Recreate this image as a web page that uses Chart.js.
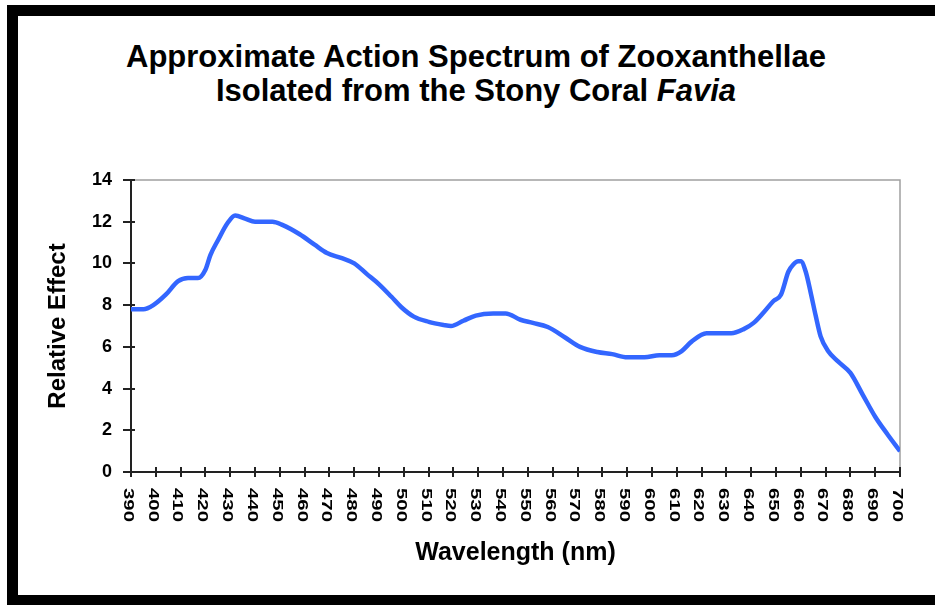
<!DOCTYPE html>
<html>
<head>
<meta charset="utf-8">
<script src="https://cdn.jsdelivr.net/npm/chart.js@4.4.0/dist/chart.umd.min.js"></script>
<style>
  body { margin: 0; background: #fff; }
  #page { position: relative; width: 935px; height: 605px; overflow: hidden; background: #fff; }
  #frame { position: absolute; left: 7px; top: 5px; width: 1000px; height: 601px; box-sizing: border-box;
           border: 11px solid #000; border-right: none; }
  #title { position: absolute; left: 0; top: 40px; width: 952px; text-align: center;
           font: bold 31px "Liberation Sans", Arial, sans-serif; line-height: 34px; color: #000; }
  canvas { position: absolute; left: 0; top: 0; }
</style>
</head>
<body>
<div id="page">
  <div id="frame"></div>
  <div id="title">Approximate Action Spectrum of Zooxanthellae<br>Isolated from the Stony Coral <i>Favia</i></div>
  <canvas id="chart" width="935" height="605"></canvas>
</div>
<script>
// valeurs
const wavelength = [390,395,399,404,409,413,417,420,422,425,429,432,436,440,447,451,458,464,469,475,
  480,485,490,495,499,504,510,516,519,524,529,536,541,547,552,558,565,571,578,584,
  590,597,603,608,612,616,622,628,632,637,641,645,649,652,655,657,659,660,662,664,
  666,668,671,675,680,685,690,695,700];
const effect = [7.8,7.8,8.0,8.5,9.15,9.3,9.3,9.7,10.4,11.1,11.95,12.3,12.15,12.0,12.0,11.85,11.4,10.9,10.5,10.25,
  10.0,9.5,9.0,8.4,7.9,7.45,7.2,7.05,7.0,7.25,7.5,7.6,7.6,7.3,7.15,6.95,6.45,6.0,5.75,5.65,
  5.5,5.5,5.6,5.6,5.8,6.25,6.65,6.65,6.65,6.85,7.15,7.65,8.2,8.5,9.6,9.95,10.1,10.1,9.6,8.6,
  7.5,6.5,5.8,5.3,4.75,3.7,2.65,1.8,1.0];

const xMin = 390, xMax = 700, xStep = 10;
const yMin = 0, yMax = 14, yStep = 2;
const xTitle = 'Wavelength (nm)';
const yTitle = 'Relative Effect';

const FONT = '"Liberation Sans", Arial, sans-serif';

// cadre gris en haut / à droite + graduations qui traversent les axes
const axesDeco = {
  id: 'axesDeco',
  beforeDatasetsDraw(chart) {
    const {ctx, chartArea: a, scales} = chart;
    ctx.save();
    ctx.strokeStyle = '#a0a0a0';
    ctx.lineWidth = 1.5;
    ctx.beginPath();
    ctx.moveTo(a.left, a.top);
    ctx.lineTo(a.right, a.top);
    ctx.lineTo(a.right, a.bottom);
    ctx.stroke();

    ctx.strokeStyle = '#222';
    ctx.lineWidth = 2;
    ctx.beginPath();
    scales.y.ticks.forEach(t => {
      const y = Math.round(scales.y.getPixelForValue(t.value));
      ctx.moveTo(a.left - 8, y);
      ctx.lineTo(a.left + 4, y);
    });
    scales.x.ticks.forEach(t => {
      const x = Math.round(scales.x.getPixelForValue(t.value));
      ctx.moveTo(x, a.bottom - 5);
      ctx.lineTo(x, a.bottom + 5);
    });
    ctx.stroke();
    ctx.restore();
  },
  afterDraw(chart) { // étiquettes de l'axe x tournées dans le sens horaire
    const {ctx, chartArea: a, scales} = chart;
    ctx.save();
    ctx.fillStyle = '#000';
    ctx.font = 'bold 15px ' + FONT;
    ctx.textAlign = 'left';
    ctx.textBaseline = 'middle';
    scales.x.ticks.forEach(t => {
      const x = scales.x.getPixelForValue(t.value);
      ctx.save();
      ctx.translate(x - 3, a.bottom + 16);
      ctx.rotate(Math.PI / 2);
      ctx.scale(1.36, 1);
      ctx.fillText(String(t.value), 0, 0);
      ctx.restore();
    });
    ctx.restore();
  }
};

new Chart(document.getElementById('chart'), {
  type: 'line',
  data: {
    datasets: [{
      data: wavelength.map((w, i) => ({x: w, y: effect[i]})),
      borderColor: '#3366ff',
      borderWidth: 4.5,
      pointRadius: 0,
      tension: 0.3,
      cubicInterpolationMode: 'monotone',
      fill: false
    }]
  },
  options: {
    responsive: false,
    animation: false,
    devicePixelRatio: 1,
    layout: { padding: { left: 44, top: 180, right: 35, bottom: 37 } },
    plugins: { legend: { display: false }, tooltip: { enabled: false } },
    scales: {
      x: {
        type: 'linear',
        min: xMin, max: xMax,
        ticks: { stepSize: xStep, display: false },
        grid: { display: false, drawTicks: false },
        border: { display: true, color: '#222', width: 2 },
        title: { display: true, text: xTitle, color: '#000', padding: 0,
                 font: { family: FONT, size: 25, weight: 'bold' } },
        afterFit: s => { s.height = 96; }
      },
      y: {
        min: yMin, max: yMax,
        ticks: { stepSize: yStep, color: '#000', padding: 11,
                 font: { family: FONT, size: 18, weight: 'bold' } },
        grid: { display: false, drawTicks: true, tickLength: 8 },
        border: { display: true, color: '#222', width: 2 },
        title: { display: true, text: yTitle, color: '#000', padding: 0,
                 font: { family: FONT, size: 24, weight: 'bold' } },
        afterFit: s => { s.width = 87; }
      }
    }
  },
  plugins: [axesDeco]
});
</script>
</body>
</html>
